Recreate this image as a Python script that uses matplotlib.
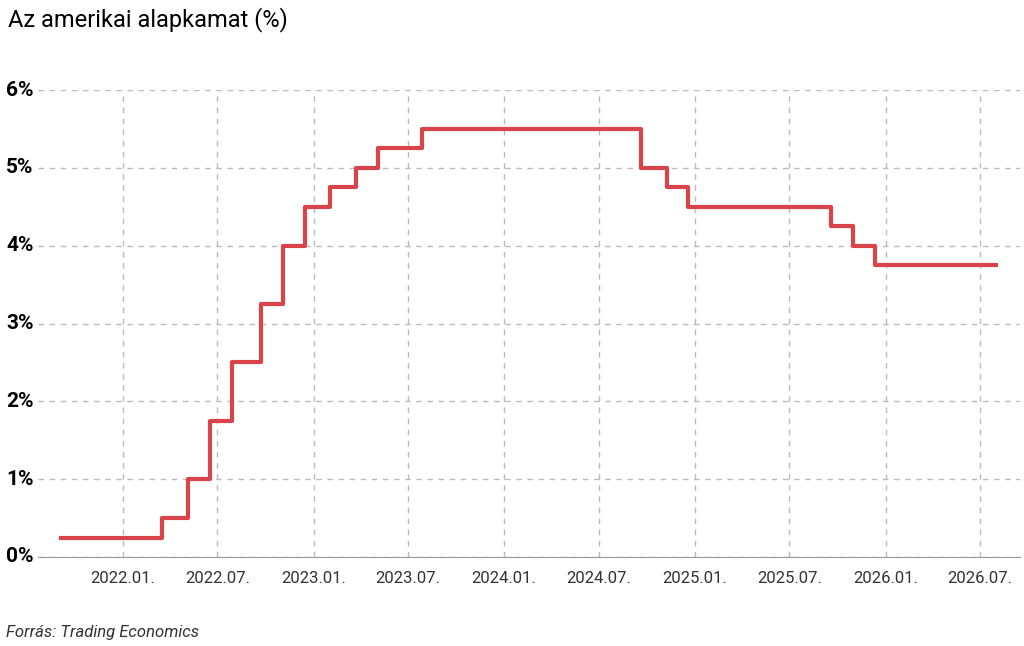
import matplotlib
matplotlib.use("Agg")
import matplotlib.pyplot as plt
import matplotlib.dates as mdates
import numpy as np

dates = ["2021-09-04","2022-03-17","2022-05-05","2022-06-16","2022-07-28","2022-09-22","2022-11-03",
         "2022-12-15","2023-02-02","2023-03-23","2023-05-04","2023-07-27","2024-09-19","2024-11-08",
         "2024-12-19","2025-09-18","2025-10-30","2025-12-11","2026-08-01"]
rates = [0.25,0.5,1.0,1.75,2.5,3.25,4.0,4.5,4.75,5.0,5.25,5.5,5.0,4.75,4.5,4.25,4.0,3.75,3.75]
tick_dates = ["2022-01-01","2022-07-01","2023-01-01","2023-07-01","2024-01-01","2024-07-01",
              "2025-01-01","2025-07-01","2026-01-01","2026-07-01"]
tick_labels = ["2022.01.","2022.07.","2023.01.","2023.07.","2024.01.","2024.07.",
               "2025.01.","2025.07.","2026.01.","2026.07."]
yticks = [0,1,2,3,4,5,6]

plt.rcParams['font.family'] = ['Roboto', 'DejaVu Sans']
fig = plt.figure(figsize=(10.24,6.46), dpi=100)
ax = fig.add_axes([38/1024, 1-557/646, 982/1024, 467/646])
x = mdates.datestr2num(dates)
ax.step(x, rates, where='post', color='#d9444a', lw=3, zorder=3)
t = mdates.datestr2num(tick_dates)
ax.set_xticks(t)
ax.set_xticklabels(tick_labels, fontsize=12, color='#333333')
ax.tick_params(axis='x', length=0, pad=10)
d0 = mdates.datestr2num("2022-01-01")
ppd = 857/1642
ax.set_xlim(d0 - (123-38)/ppd, d0 + (1020-123)/ppd)
ax.set_ylim(0, 6)
ax.set_yticks(yticks)
ax.set_yticklabels([])
ax.tick_params(axis='y', length=0)
for v in yticks:
    ax.text(6/1024, v, f"{v}%", transform=ax.get_yaxis_transform().__class__(fig.transFigure, ax.transData),
            fontsize=15, fontweight='bold', ha='left', va='center')
ax.grid(True, ls=(0,(4,4)), color='#bbbbbb', lw=1)
for s in ['top','right','left']:
    ax.spines[s].set_visible(False)
ax.spines['bottom'].set_color('#999999')
fig.text(8/1024, 1-20/646, "Az amerikai alapkamat (%)", fontsize=17, va='center', ha='left')
fig.text(6/1024, 1-632/646, "Forrás: Trading Economics", fontsize=12, style='italic', va='center', color='#333333')
fig.savefig("out.png", dpi=100)
